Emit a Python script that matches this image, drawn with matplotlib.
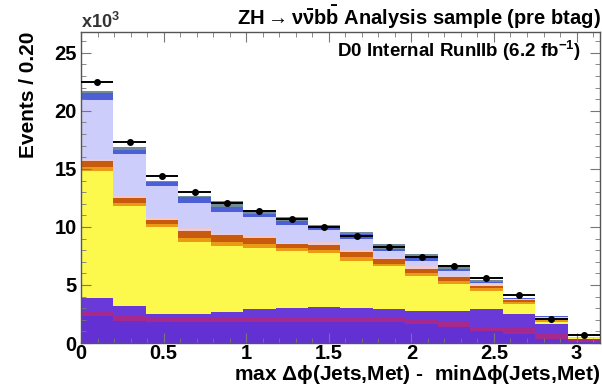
import numpy as np
import matplotlib.pyplot as plt

plt.rcParams["font.family"] = ["Liberation Sans", "DejaVu Sans"]
plt.rcParams["font.weight"] = "bold"
plt.rcParams["mathtext.fontset"] = "custom"
plt.rcParams["mathtext.rm"] = "Liberation Sans:bold"
plt.rcParams["mathtext.it"] = "Liberation Sans:bold"
plt.rcParams["mathtext.bf"] = "Liberation Sans:bold"

# 16 bins of width pi/16 (values in units of 10^3 events)
edges = np.linspace(0, np.pi, 17)

data = [22.5, 17.3, 14.4, 13.0, 12.05, 11.4, 10.7, 10.0, 9.2, 8.3, 7.4, 6.6, 5.6, 4.1, 2.1, 0.7]
data_err = [0.15, 0.13, 0.12, 0.11, 0.11, 0.11, 0.10, 0.10, 0.10, 0.09, 0.09, 0.08, 0.07, 0.06, 0.05, 0.03]

# stacked backgrounds, bottom to top
purple_low = [2.3, 1.9, 1.8, 1.8, 1.8, 1.8, 1.8, 1.8, 1.8, 1.8, 1.6, 1.4, 1.0, 0.8, 0.35, 0.1]
magenta = [0.5, 0.45, 0.45, 0.45, 0.45, 0.45, 0.45, 0.45, 0.45, 0.4, 0.4, 0.4, 0.4, 0.6, 0.55, 0.2]
purple_high = [1.1, 0.85, 0.25, 0.25, 0.45, 0.65, 0.75, 0.85, 0.75, 0.7, 0.8, 1.0, 1.5, 1.1, 0.7, 0.05]
yellow = [10.9, 8.6, 7.5, 6.2, 5.7, 5.3, 4.9, 4.65, 4.1, 3.7, 3.0, 2.3, 1.6, 0.9, 0.2, 0.05]
orange = [0.35, 0.3, 0.25, 0.35, 0.3, 0.3, 0.25, 0.3, 0.3, 0.25, 0.25, 0.25, 0.2, 0.15, 0.2, 0.03]
brown = [0.5, 0.4, 0.35, 0.6, 0.6, 0.55, 0.35, 0.4, 0.45, 0.35, 0.35, 0.35, 0.25, 0.15, 0.15, 0.03]
pink = [0.2, 0.2, 0.2, 0.3, 0.15, 0.15, 0.15, 0.25, 0.15, 0.1, 0.2, 0.1, 0.1, 0.05, 0.05, 0.02]
lavender = [5.05, 3.6, 2.7, 2.15, 1.85, 1.65, 1.55, 1.0, 1.0, 0.6, 0.5, 0.4, 0.15, 0.05, 0.05, 0.02]
blue = [0.6, 0.3, 0.4, 0.5, 0.4, 0.25, 0.3, 0.3, 0.4, 0.2, 0.2, 0.2, 0.1, 0.05, 0.05, 0.0]
gray = [0.2, 0.3, 0.1, 0.05, 0.5, 0.4, 0.35, 0.2, 0.2, 0.4, 0.4, 0.35, 0.1, 0.05, 0.05, 0.0]

layers = [
    (purple_low, "#6331d3"),
    (magenta, "#a62a8e"),
    (purple_high, "#6a3ad9"),
    (yellow, "#fcf94c"),
    (orange, "#eb9a16"),
    (brown, "#c75a0c"),
    (pink, "#efc9cf"),
    (lavender, "#cdcdfb"),
    (blue, "#4c5fd4"),
    (gray, "#6f8c98"),
]

fig = plt.figure(figsize=(6.02, 3.85), dpi=100)
ax = fig.add_axes([0.1346, 0.109, 0.862, 0.808])

bottom = np.zeros(len(edges) - 1)
for vals, col in layers:
    top = bottom + np.array(vals)
    ax.stairs(top, edges, baseline=bottom, fill=True, color=col, lw=0)
    bottom = top

centers = 0.5 * (edges[:-1] + edges[1:])
ax.errorbar(centers, data, xerr=0.5 * np.diff(edges), yerr=data_err,
            fmt="o", color="black", ms=4, elinewidth=1.4, capsize=0, zorder=5)

ax.set_xlim(0, np.pi)
ax.set_ylim(0, 26.8)
ax.set_xticks([0, 0.5, 1, 1.5, 2, 2.5, 3])
ax.set_xticklabels(["0", "0.5", "1", "1.5", "2", "2.5", "3"])
ax.set_xticks(np.arange(0, 3.15, 0.1), minor=True)
ax.set_yticks([0, 5, 10, 15, 20, 25])
ax.set_yticks(np.arange(0, 27, 1), minor=True)
ax.tick_params(which="both", direction="in", top=True, right=True,
               color="#777777", labelsize=14.5)
ax.tick_params(which="major", length=7, width=0.8)
ax.tick_params(which="minor", length=3.5, width=0.6)
ax.tick_params(axis="x", pad=1)
ax.tick_params(axis="y", pad=3)
for s in ax.spines.values():
    s.set_color("#555555")
    s.set_linewidth(1.0)

ax.set_ylabel("Events / 0.20", fontsize=15, fontweight="bold", loc="top", labelpad=12)
ax.set_xlabel(r"max $\Delta\phi$(Jets,Met) -  min$\Delta\phi$(Jets,Met)",
              fontsize=15, fontweight="bold", loc="right", labelpad=0)

fig.text(0.134, 1 - 22 / 385, r"x10$^{3}$", fontsize=13, color="#333333",
         ha="left", va="center")
fig.text(0.998, 1 - 17 / 385,
         r"ZH$\rightarrow\nu\bar{\nu}b\bar{b}$ Analysis sample (pre btag)",
         fontsize=14.5, ha="right", va="center")
fig.text(0.762, 1 - 51 / 385, r"D0 Internal RunIIb (6.2 fb$^{-1}$)",
         fontsize=13.5, ha="center", va="center")

fig.savefig("out.png", dpi=100)
